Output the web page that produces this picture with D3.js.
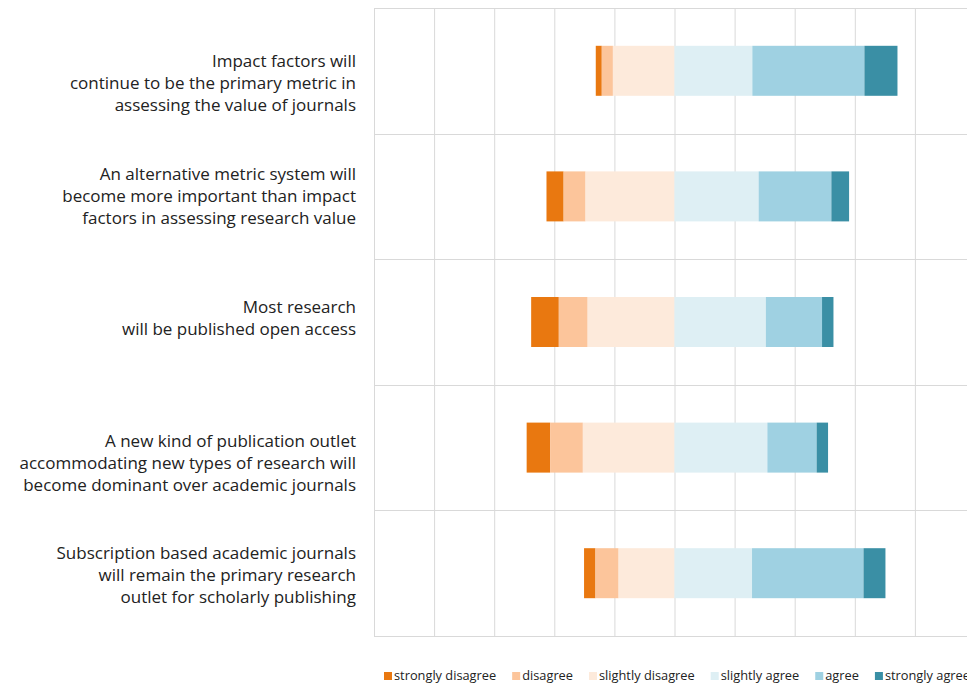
<!DOCTYPE html>
<html>
<head>
<meta charset="utf-8">
<script src="https://cdn.jsdelivr.net/npm/d3@7"></script>
<style>
  body { margin: 0; background: #fff; overflow: hidden; }
  text { font-family: 'Century Gothic', 'Open Sans', Lato, sans-serif; fill: #222; }
</style>
</head>
<body>
<script>
const width = 967;
const height = 684;

// statements, top to bottom
const statements = [
  ['Impact factors will', 'continue to be the primary metric in', 'assessing the value of journals'],
  ['An alternative metric system will', 'become more important than impact', 'factors in assessing research value'],
  ['Most research', 'will be published open access'],
  ['A new kind of publication outlet', 'accommodating new types of research will', 'become dominant over academic journals'],
  ['Subscription based academic journals', 'will remain the primary research', 'outlet for scholarly publishing']
];

const responses = ['strongly disagree', 'disagree', 'slightly disagree', 'slightly agree', 'agree', 'strongly agree'];
const colors = ['#e97810', '#fcc59b', '#fdeadb', '#deeff4', '#9fd1e2', '#3a8fa5'];

// share of respondents (%), one array per answer, statements in order
const stronglyDisagree = [2.0, 5.7, 9.2, 7.8, 3.8];
const disagree         = [3.7, 7.3, 9.6, 10.9, 7.7];
const slightlyDisagree = [20.5, 29.6, 28.9, 30.5, 18.6];
const slightlyAgree    = [25.9, 28.0, 30.4, 30.9, 25.8];
const agree            = [37.3, 24.2, 18.7, 16.4, 37.1];
const stronglyAgree    = [11.0, 5.9, 3.8, 3.8, 7.3];

const gridTicks = [-100, -80, -60, -40, -20, 0, 20, 40, 60, 80, 100];

// small vertical nudges so wrapped labels sit like the original
const labelNudge = [12, 0, -4, 15, 2];

const series = [stronglyDisagree, disagree, slightlyDisagree, slightlyAgree, agree, stronglyAgree];

const margin = { top: 8, left: 374, bottom: 48 };
const plotBottom = height - margin.bottom;

const svg = d3.select('body')
  .append('svg')
  .attr('width', width)
  .attr('height', height);

const x = d3.scaleLinear()
  .domain([-100, 100])
  .range([margin.left, 975]);

const y = d3.scaleBand()
  .domain(d3.range(statements.length))
  .range([margin.top, plotBottom])
  .paddingInner(0.6)
  .paddingOuter(0.3);

const grid = svg.append('g').attr('class', 'grid');

grid.selectAll('line.v')
  .data(gridTicks).enter()
  .append('line')
  .attr('class', 'v')
  .attr('x1', d => x(d) + 0.5)
  .attr('x2', d => x(d) + 0.5)
  .attr('y1', margin.top)
  .attr('y2', plotBottom)
  .attr('stroke', '#d9d9d9');

const rowEdges = d3.range(statements.length + 1).map(i => margin.top + i * (plotBottom - margin.top) / statements.length);

grid.selectAll('line.h')
  .data(rowEdges).enter()
  .append('line')
  .attr('class', 'h')
  .attr('x1', x(-100))
  .attr('x2', width)
  .attr('y1', d => Math.round(d) + 0.5)
  .attr('y2', d => Math.round(d) + 0.5)
  .attr('stroke', '#d9d9d9');

// build stacked segments, disagree side running left from zero
const segments = [];
statements.forEach((s, i) => {
  let left = -(stronglyDisagree[i] + disagree[i] + slightlyDisagree[i]);
  series.forEach((vals, k) => {
    segments.push({ row: i, k, x0: left, x1: left + vals[i] });
    left += vals[i];
  });
});

const bandMid = i => y(i) + y.bandwidth() / 2;

svg.append('g')
  .selectAll('rect')
  .data(segments).enter()
  .append('rect')
  .attr('x', d => x(d.x0))
  .attr('width', d => x(d.x1) - x(d.x0))
  .attr('y', d => bandMid(d.row) - 25)
  .attr('height', 50)
  .attr('fill', d => colors[d.k]);

// category labels
const lineH = 22;
const labels = svg.append('g')
  .selectAll('text')
  .data(statements).enter()
  .append('text')
  .attr('text-anchor', 'end')
  .style('font-size', '17px');

labels.each(function (lines, i) {
  const top = bandMid(i) + labelNudge[i] - (lines.length - 1) * lineH / 2;
  d3.select(this).selectAll('tspan')
    .data(lines).enter()
    .append('tspan')
    .attr('x', 356)
    .attr('y', (d, j) => top + j * lineH)
    .attr('dy', '0.35em')
    .text(d => d);
});

// legend
const legend = svg.append('g').attr('transform', 'translate(384, 676)');
let lx = 0;
responses.forEach((r, k) => {
  const g = legend.append('g').attr('transform', `translate(${lx}, 0)`);
  g.append('rect')
    .attr('x', 0).attr('y', -4)
    .attr('width', 8).attr('height', 8)
    .attr('fill', colors[k]);
  const t = g.append('text')
    .attr('x', 10)
    .attr('dy', '0.35em')
    .style('font-size', '12.8px')
    .text(r);
  lx += 10 + t.node().getComputedTextLength() + 16;
});
</script>
</body>
</html>
